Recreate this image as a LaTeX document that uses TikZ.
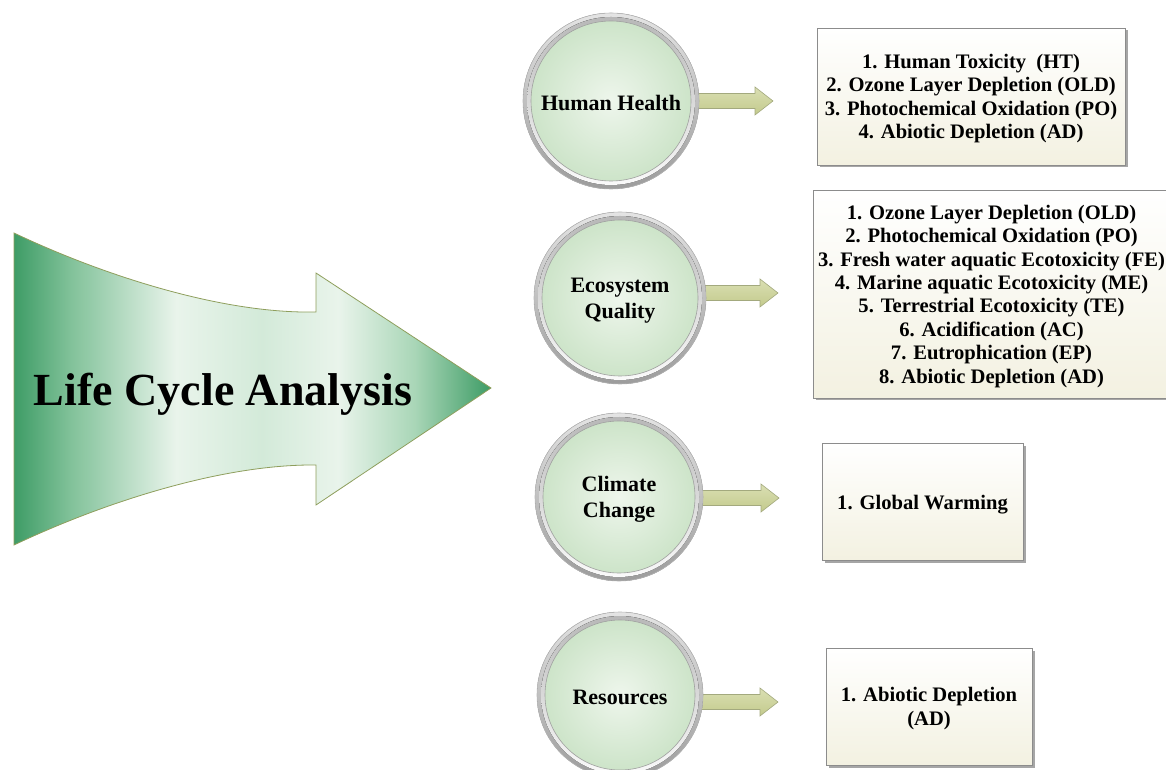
\documentclass[tikz,border=0pt]{standalone}
\usepackage{fontspec}
\setmainfont{Liberation Serif}
\usetikzlibrary{shadows,calc}
\definecolor{gDark}{HTML}{3E9C66}
\definecolor{gMid}{HTML}{82C29A}
\definecolor{gLight}{HTML}{E9F4EB}
\definecolor{gPale}{HTML}{D3EAD9}
\definecolor{gHead}{HTML}{A9D6B7}
\definecolor{arrowLine}{HTML}{8E9E5C}
\definecolor{cIn}{HTML}{EEF6EC}
\definecolor{cOut}{HTML}{CDE4C9}
\definecolor{ringA}{HTML}{E4E4E4}
\definecolor{ringB}{HTML}{9C9C9C}
\definecolor{ringC}{HTML}{FAFAFA}
\definecolor{ringD}{HTML}{B8B8B8}
\definecolor{discL}{HTML}{A0A0A0}
\definecolor{sarrT}{HTML}{DADFB3}
\definecolor{sarrB}{HTML}{C3CA8C}
\definecolor{sarrL}{HTML}{A3A97E}
\definecolor{boxB}{HTML}{F3F1E1}
\definecolor{boxL}{HTML}{8C8C8C}
\pgfdeclarehorizontalshading{lcashade}{100bp}{color(0bp)=(gDark); color(25bp)=(gDark); color(31bp)=(gMid); color(42bp)=(gLight); color(51bp)=(gPale); color(59bp)=(gLight); color(67bp)=(gHead); color(75bp)=(gDark); color(100bp)=(gDark)}
\pgfdeclareradialshading{discshade}{\pgfpoint{0bp}{0bp}}{color(0bp)=(cIn); color(25bp)=(cOut); color(50bp)=(cOut)}
\tikzset{
 lca/.style={shading=lcashade, draw=arrowLine, line width=0.8pt},
 ringout/.style={top color=ringA, bottom color=ringB, draw=ringD, line width=0.6pt},
 ringin/.style={top color=ringD, bottom color=ringC},
 disc/.style={circle, shading=discshade, draw=discL, line width=0.6pt, inner sep=0pt, align=center, font=\fontsize{22}{26}\selectfont\bfseries, execute at begin node={\rule{0pt}{20pt}}},
 sarr/.style={top color=sarrT, bottom color=sarrB, draw=sarrL, line width=0.6pt, line join=miter},
 impbox/.style={draw=boxL, line width=0.7pt, top color=white, bottom color=boxB, align=center, inner sep=0pt, font=\fontsize{20.6}{23.4}\selectfont\bfseries, execute at begin node={\rule{0pt}{21pt}}, drop shadow={shadow xshift=2.5pt, shadow yshift=-2.5pt, opacity=0.35, fill=black}},
 titletext/.style={font=\fontsize{46}{50}\selectfont\bfseries, inner sep=0pt}
}
\newcommand\ringat[3]{%
 \fill[ringout] (#1) circle (#2);
 \fill[ringin] (#1) circle (#3);
}
\newcommand\smallarrow[1]{%
 \draw[sarr] ($(#1)+(0,7.5)$) -- ++(61,0) -- ++(0,6.5) -- ++(18,-14) -- ++(-18,-14) -- ++(0,6.5) -- ++(-61,0) -- cycle;
}
\begin{document}
\begin{tikzpicture}[x=1pt,y=1pt]
\useasboundingbox (0,0) rectangle (1166,769);
\clip (0,0) rectangle (1166,769);
% big arrow
\draw[lca] (14,536) .. controls (100,495) and (220,455) .. (316,457) -- (316,496) -- (491,381) -- (316,264) -- (316,304) .. controls (220,305) and (100,265) .. (14,224) -- cycle;
\node[titletext] (lca) at (223,375) {Life Cycle Analysis};
% centres
\coordinate (c1) at (611,668);
\coordinate (c2) at (620,471);
\coordinate (c3) at (619,272);
\coordinate (c4) at (620,74);
\coordinate (t1) at (694,668);
\coordinate (t2) at (699,476);
\coordinate (t3) at (700,271);
\coordinate (t4) at (699,67);
% small arrows
\smallarrow{t1}
\smallarrow{t2}
\smallarrow{t3}
\smallarrow{t4}
% rings and discs
\ringat{c1}{88pt}{84pt}
\node[disc, minimum size=160pt] (hh) at (c1) {Human Health};
\ringat{c2}{86pt}{82pt}
\node[disc, minimum size=156pt, text depth=-1pt] (eq) at (c2) {Ecosystem\\Quality};
\ringat{c3}{84pt}{80pt}
\node[disc, minimum size=152pt, text depth=-1pt] (cc) at (c3) {Climate\\Change};
\ringat{c4}{83pt}{79pt}
\node[disc, minimum size=150pt] (rs) at (c4) {Resources};
% boxes
\node[impbox, minimum width=308pt, minimum height=137pt, text depth=0.5pt] (b1) at (971,672.5) {1. Human Toxicity~ (HT)\\2. Ozone Layer Depletion (OLD)\\3. Photochemical Oxidation (PO)\\4. Abiotic Depletion (AD)};
\node[impbox, minimum width=357pt, minimum height=208pt, text depth=-3.5pt] (b2) at (991.5,475) {1. Ozone Layer Depletion (OLD)\\2. Photochemical Oxidation (PO)\\3. Fresh water aquatic Ecotoxicity (FE)\\4. Marine aquatic Ecotoxicity (ME)\\5. Terrestrial Ecotoxicity (TE)\\6. Acidification (AC)\\7. Eutrophication (EP)\\8. Abiotic Depletion (AD)};
\node[impbox, minimum width=201pt, minimum height=117pt] (b3) at (922.5,267.5) {1. Global Warming};
\node[impbox, minimum width=206pt, minimum height=117pt, text depth=-1.5pt] (b4) at (929,62.5) {1. Abiotic Depletion\\(AD)};
\end{tikzpicture}
\end{document}
